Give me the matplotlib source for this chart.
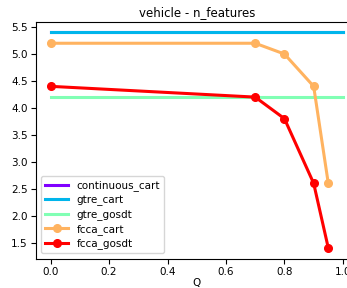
import matplotlib
matplotlib.use("Agg")
import matplotlib.pyplot as plt
import numpy as np

q = [0.0, 0.7, 0.8, 0.9, 0.95]
baseline_names = ["continuous_cart", "gtre_cart", "gtre_gosdt"]
baseline_values = [5.4, 5.4, 4.2]
fcca_cart = [5.2, 5.2, 5.0, 4.4, 2.6]
fcca_gosdt = [4.4, 4.2, 3.8, 2.6, 1.4]

colors = plt.cm.rainbow(np.linspace(0, 1, 5))

fig = plt.figure(figsize=(3.47, 2.88), dpi=100)
# the original figure was cropped on the right, so the axes run past the edge
ax = fig.add_axes([36 / 347, 29.3 / 288, 321.5 / 347, 237 / 288])

for i, (name, val) in enumerate(zip(baseline_names, baseline_values)):
    ax.plot([0, 1], [val, val], color=colors[i], lw=2.2, label=name)

ax.plot(q, fcca_cart, color=colors[3], lw=2.2, marker="o", ms=5.5, label="fcca_cart")
ax.plot(q, fcca_gosdt, color=colors[4], lw=2.2, marker="o", ms=5.5, label="fcca_gosdt")

ax.set_xlim(-0.05, 1.05)
ax.set_ylim(1.2, 5.6)
ax.set_yticks([1.5, 2.0, 2.5, 3.0, 3.5, 4.0, 4.5, 5.0, 5.5])
ax.tick_params(labelsize=7.5, pad=2.5)
ax.set_xlabel("Q", fontsize=7.5, labelpad=0.5)
ax.set_title("vehicle - n_features", fontsize=8.5, pad=4)
ax.legend(loc="lower left", fontsize=7.5, handlelength=2.2, borderpad=0.4,
          labelspacing=0.35)

fig.savefig("out.png", dpi=100)
